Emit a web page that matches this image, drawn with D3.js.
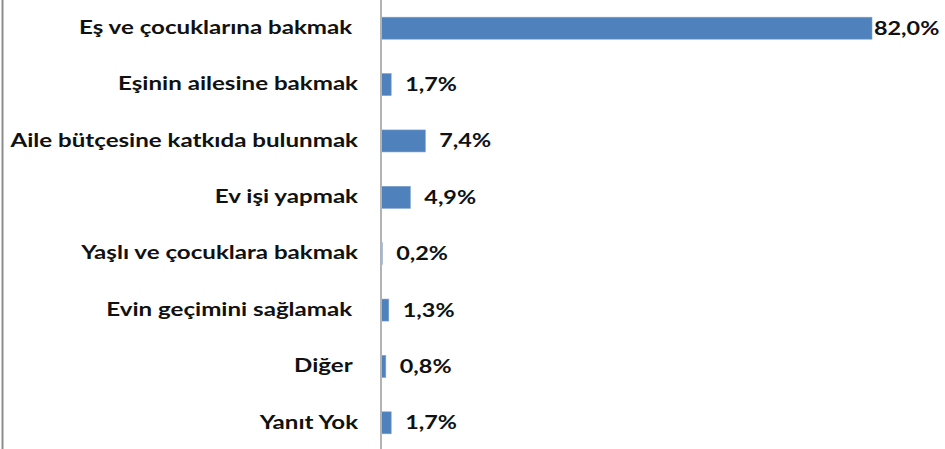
<!DOCTYPE html>
<html>
<head>
<meta charset="utf-8">
<script src="https://cdn.jsdelivr.net/npm/d3@7"></script>
<style>
  body { margin: 0; background: #fff; }
  text { white-space: pre; }
</style>
</head>
<body>
<div id="wrapper"></div>
<script>
const categories = ["Eş ve çocuklarına bakmak ", "Eşinin ailesine bakmak", "Aile bütçesine katkıda bulunmak", "Ev işi yapmak", "Yaşlı ve çocuklara bakmak", "Evin geçimini sağlamak ", "Diğer ", "Yanıt Yok"]
const values = [82.0, 1.7, 7.4, 4.9, 0.2, 1.3, 0.8, 1.7]
const valueLabels = ["82,0%", "1,7%", "7,4%", "4,9%", "0,2%", "1,3%", "0,8%", "1,7%"]

function drawbars() {
    const width = 945
    const height = 449
    const stretch = 1.34
    const valStretch = 1.3
    const svg = d3.select("#wrapper").append("svg")
        .attr("width", width)
        .attr("height", height)

    const xScaler = d3.scaleLinear().domain([0, 82]).range([381, 872])
    const yScaler = d3.scaleBand().domain(categories).range([0, 451]).paddingInner(0.61).paddingOuter(0.305)

    // chart frame on the left
    svg.append("line")
        .attr("x1", 2.5).attr("x2", 2.5).attr("y1", 0).attr("y2", height)
        .style("stroke", "#8c8c8c").style("stroke-width", 2)

    svg.selectAll(".bar")
        .data(values)
        .enter().append("rect")
        .attr("x", xScaler(0))
        .attr("y", (d, i) => yScaler(categories[i]))
        .attr("width", d => xScaler(d) - xScaler(0))
        .attr("height", yScaler.bandwidth())
        .style("fill", "#4f81bd")
        .style("stroke", "#7da0cc")
        .style("stroke-width", 0.6)

    const yAxis = d3.axisLeft(yScaler).tickSize(0).tickPadding(23)
    const ax = svg.append("g")
        .attr("transform", "translate(" + xScaler(0) + ",0)")
        .call(yAxis)
    ax.select(".domain").remove()
    ax.selectAll("text")
        .attr("x", -23 / stretch)
        .attr("transform", "scale(" + stretch + ",1)")
        .style("font-family", "Lato, 'Open Sans', sans-serif")
        .style("font-weight", "bold")
        .style("font-size", "18px")
        .style("fill", "#111")

    svg.append("line")
        .attr("x1", xScaler(0)).attr("x2", xScaler(0)).attr("y1", 0).attr("y2", height)
        .style("stroke", "#b3b3b3").style("stroke-width", 2)

    svg.selectAll(".val")
        .data(values)
        .enter().append("g")
        .attr("transform", (d, i) => "translate(" + Math.min(xScaler(d) + 14, 874) + "," + (yScaler(categories[i]) + yScaler.bandwidth() / 2) + ") scale(" + valStretch + ",1)")
        .append("text")
        .attr("dy", "0.36em")
        .style("font-family", "Lato, 'Open Sans', sans-serif")
        .style("font-weight", "bold")
        .style("font-size", "18px")
        .style("fill", "#111")
        .text((d, i) => valueLabels[i])
}
drawbars()
</script>
</body>
</html>
